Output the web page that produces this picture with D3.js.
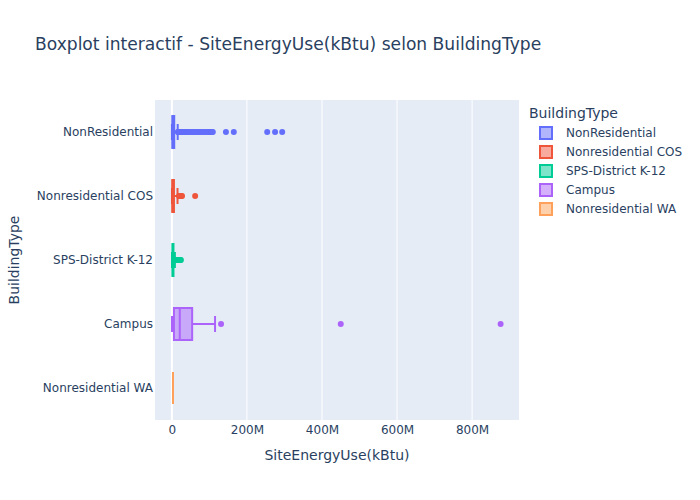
<!DOCTYPE html>
<html>
<head>
<meta charset="utf-8">
<script src="https://cdn.jsdelivr.net/npm/d3@7"></script>
<style>
  html, body { margin: 0; padding: 0; background: #fff; }
  svg { display: block; font-family: "DejaVu Sans", Verdana, sans-serif; }
</style>
</head>
<body>
<svg id="chart" width="700" height="500"></svg>
<script>
// ---- data (values in kBtu) ----
const categories = ["NonResidential", "Nonresidential COS", "SPS-District K-12", "Campus", "Nonresidential WA"];
const colors = ["#636efa", "#EF553B", "#00cc96", "#ab63fa", "#FFA15A"];
const lowerFence = [0.1e6, 0.2e6, 0.4e6, 0.3e6, 2.9e6];
const q1 =         [1.2e6, 1.0e6, 1.5e6, 5.5e6, 2.9e6];
const median =     [2.5e6, 2.2e6, 2.6e6, 21e6, 2.9e6];
const q3 =         [6.2e6, 5.5e6, 4.2e6, 54e6, 2.9e6];
const upperFence = [15.5e6, 15e6, 8e6, 115e6, 2.9e6];
const outliersNonResidential = [16e6, 17e6, 18e6, 19e6, 20e6, 21e6, 22e6, 23e6, 24e6, 25e6, 26e6, 27e6, 28e6, 29e6, 30e6, 31e6, 32e6, 33e6, 34e6, 35e6, 37e6, 39e6, 41e6, 43e6, 45e6, 47e6, 50e6, 53e6, 56e6, 60e6, 63e6, 67e6, 71e6, 76e6, 80e6, 85e6, 90e6, 95e6, 99e6, 102e6, 106e6, 109e6, 144e6, 165e6, 254e6, 275e6, 294e6];
const outliersCOS = [19e6, 21e6, 23e6, 25e6, 27e6, 62e6];
const outliersK12 = [10e6, 12e6, 14e6, 16e6, 18e6, 20e6, 22e6, 24e6];
const outliersCampus = [131e6, 450e6, 876e6];
const outliersWA = [];
const xTicks = [0, 200e6, 400e6, 600e6, 800e6];
const xDomain = [-45e6, 925e6];

const outliers = [outliersNonResidential, outliersCOS, outliersK12, outliersCampus, outliersWA];

// ---- layout ----
const plot = { left: 155, right: 519, top: 100, bottom: 420 };
const textColor = "#2a3f5f";
const svg = d3.select("#chart");

const x = d3.scaleLinear().domain(xDomain).range([plot.left, plot.right]);
const y = d3.scaleBand().domain(categories).range([plot.top, plot.bottom]).padding(0);
const bw = y.bandwidth();
const boxH = 32;
const capH = 16;

// background
svg.append("rect").attr("x", plot.left).attr("y", plot.top)
  .attr("width", plot.right - plot.left).attr("height", plot.bottom - plot.top)
  .attr("fill", "#E5ECF6");

// grid
svg.append("g").selectAll("line").data(xTicks).join("line")
  .attr("x1", d => x(d)).attr("x2", d => x(d))
  .attr("y1", plot.top).attr("y2", plot.bottom)
  .attr("stroke", "#fff").attr("stroke-width", d => d === 0 ? 2 : 1);

// x axis ticks
const xAxis = d3.axisBottom(x).tickValues(xTicks).tickSize(0).tickPadding(0)
  .tickFormat(d => d === 0 ? "0" : d3.format("~s")(d));
const gx = svg.append("g").attr("transform", `translate(0,${plot.bottom})`).call(xAxis)
  .attr("font-family", null).attr("font-size", null);
gx.select(".domain").remove();
gx.selectAll("text").attr("fill", textColor).attr("font-size", 12)
  .attr("dy", null).attr("y", 14);

// y axis ticks
const yAxis = d3.axisLeft(y).tickSize(0).tickPadding(0);
const gy = svg.append("g").attr("transform", `translate(${plot.left - 2},0)`).call(yAxis)
  .attr("font-family", null).attr("font-size", null);
gy.select(".domain").remove();
gy.selectAll("text").attr("fill", textColor).attr("font-size", 12).attr("dy", "0.35em");

// boxes
const stats = categories.map((c, i) => ({
  c, i, lf: lowerFence[i], q1: q1[i], med: median[i], q3: q3[i], uf: upperFence[i], col: colors[i], out: outliers[i]
}));

const gBoxes = svg.append("g");
stats.forEach(s => {
  const cy = y(s.c) + bw / 2;
  const g = gBoxes.append("g");
  const fill = d3.color(s.col); fill.opacity = 0.5;
  g.append("line").attr("x1", x(s.lf)).attr("x2", x(s.q1)).attr("y1", cy).attr("y2", cy)
    .attr("stroke", s.col).attr("stroke-width", 2);
  g.append("line").attr("x1", x(s.q3)).attr("x2", x(s.uf)).attr("y1", cy).attr("y2", cy)
    .attr("stroke", s.col).attr("stroke-width", 2);
  [s.lf, s.uf].forEach(v => {
    g.append("line").attr("x1", x(v)).attr("x2", x(v)).attr("y1", cy - capH / 2).attr("y2", cy + capH / 2)
      .attr("stroke", s.col).attr("stroke-width", 2);
  });
  g.append("rect").attr("x", x(s.q1)).attr("y", cy - boxH / 2)
    .attr("width", Math.max(0, x(s.q3) - x(s.q1))).attr("height", boxH)
    .attr("fill", fill.toString()).attr("stroke", s.col).attr("stroke-width", 2);
  g.append("line").attr("x1", x(s.med)).attr("x2", x(s.med)).attr("y1", cy - boxH / 2).attr("y2", cy + boxH / 2)
    .attr("stroke", s.col).attr("stroke-width", 2);
  g.selectAll("circle").data(s.out).join("circle")
    .attr("cx", d => x(d)).attr("cy", cy).attr("r", 3).attr("fill", s.col);
});

// title
svg.append("text").attr("x", 35).attr("y", 50).attr("font-size", 17.1).attr("fill", textColor)
  .text("Boxplot interactif - SiteEnergyUse(kBtu) selon BuildingType");

// axis titles
svg.append("text").attr("x", (plot.left + plot.right) / 2).attr("y", 460)
  .attr("text-anchor", "middle").attr("font-size", 14).attr("fill", textColor)
  .text("SiteEnergyUse(kBtu)");
svg.append("text").attr("transform", `translate(19,${(plot.top + plot.bottom) / 2}) rotate(-90)`)
  .attr("text-anchor", "middle").attr("font-size", 14).attr("fill", textColor)
  .text("BuildingType");

// legend
const lg = svg.append("g");
lg.append("text").attr("x", 529).attr("y", 118).attr("font-size", 14).attr("fill", textColor).text("BuildingType");
categories.forEach((c, i) => {
  const cy = 133 + i * 19;
  const fill = d3.color(colors[i]); fill.opacity = 0.5;
  lg.append("rect").attr("x", 540).attr("y", cy - 6).attr("width", 12).attr("height", 12)
    .attr("fill", fill.toString()).attr("stroke", colors[i]).attr("stroke-width", 2);
  lg.append("text").attr("x", 566).attr("y", cy).attr("dy", "0.35em").attr("font-size", 12)
    .attr("fill", textColor).text(c);
});
</script>
</body>
</html>
